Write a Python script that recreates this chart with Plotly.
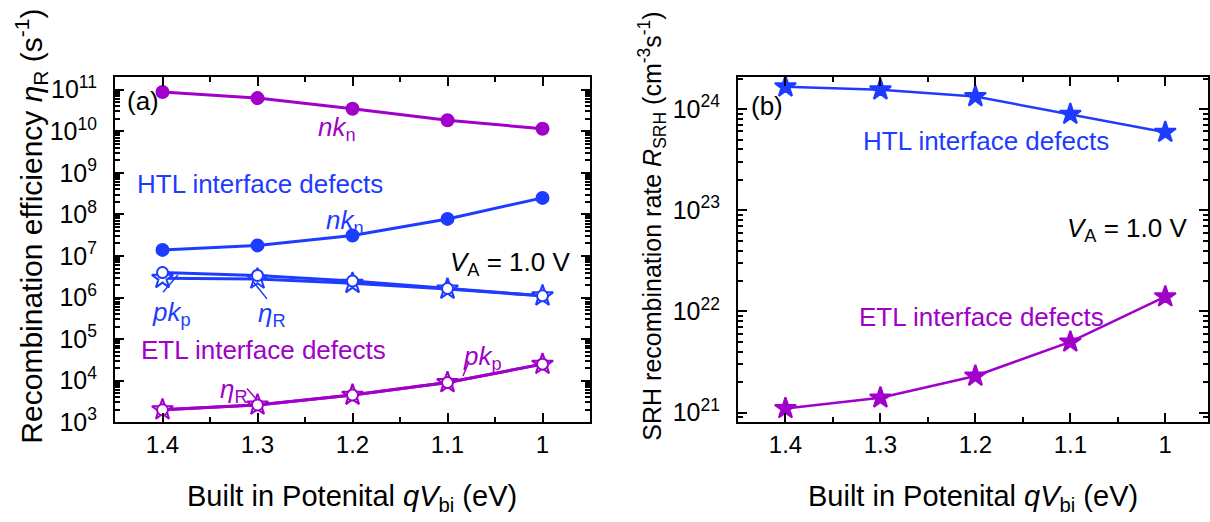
import plotly.graph_objects as go

W, H = 1210, 522

# ---------------- data ----------------
vbi = [1.4, 1.3, 1.2, 1.1, 1.0]
vbi_labels = ["1.4", "1.3", "1.2", "1.1", "1"]

# panel (a): recombination efficiency (s^-1)
etl_nkn = [8.8e10, 6.3e10, 3.5e10, 1.85e10, 1.15e10]
htl_nkn = [1.4e7, 1.8e7, 3.1e7, 7.8e7, 2.5e8]
htl_pkp = [2.9e6, 2.8e6, 2.2e6, 1.6e6, 1.1e6]
htl_etaR = [4.0e6, 3.4e6, 2.5e6, 1.65e6, 1.1e6]
etl_pkp = [2.0e3, 2.6e3, 4.5e3, 9.0e3, 2.5e4]
etl_etaR = [2.0e3, 2.6e3, 4.5e3, 9.0e3, 2.5e4]

# panel (b): SRH recombination rate (cm^-3 s^-1)
htl_rsrh = [1.66e24, 1.55e24, 1.33e24, 8.9e23, 5.9e23]
etl_rsrh = [1.1e21, 1.4e21, 2.3e21, 5.0e21, 1.4e22]

ya_exp = list(range(3, 12))
yb_exp = list(range(21, 25))

BLUE = "#1E3CFF"
PURPLE = "#A000C8"
FONT = "Liberation Sans, Arial, sans-serif"

fig = go.Figure()


def line_trace(y, color, symbol, size, filled, xa, ya, lw=3):
    return go.Scatter(
        x=vbi, y=y, mode="lines+markers", xaxis=xa, yaxis=ya,
        line=dict(color=color, width=lw),
        marker=dict(symbol=symbol, size=size,
                    color=color if filled else "white",
                    line=dict(color=color, width=2)),
        showlegend=False, cliponaxis=False)


# panel (a): y = label axis, y3 = same scale, carries the inside ticks
fig.add_trace(line_trace(etl_nkn, PURPLE, "circle", 12, True, "x", "y"))
fig.add_trace(line_trace(htl_nkn, BLUE, "circle", 12, True, "x", "y"))
fig.add_trace(line_trace(htl_pkp, BLUE, "star", 16, False, "x", "y3"))
fig.add_trace(line_trace(htl_etaR, BLUE, "circle", 11, False, "x", "y3"))
fig.add_trace(line_trace(etl_pkp, PURPLE, "star", 16, False, "x", "y3"))
fig.add_trace(line_trace(etl_etaR, PURPLE, "circle", 11, False, "x", "y3"))
# panel (b): y2 = label axis, y4 = same scale, carries the inside ticks
fig.add_trace(line_trace(htl_rsrh, BLUE, "star", 16, True, "x2", "y2", lw=2.5))
fig.add_trace(line_trace(etl_rsrh, PURPLE, "star", 16, True, "x2", "y4", lw=2.5))


def px(x):
    return x / W


def py(y):
    return 1 - y / H


x_minor = [1.45, 1.35, 1.25, 1.15, 1.05, 0.95]


def xaxis_cfg(x0, x1, anchor, rng):
    return dict(domain=[px(x0), px(x1)], anchor=anchor, range=rng,
                showline=True, linecolor="black", linewidth=2, mirror="ticks",
                ticks="inside", ticklen=9, tickwidth=2, tickcolor="black",
                showgrid=False, zeroline=False,
                tickmode="array", tickvals=vbi, ticktext=vbi_labels,
                tickfont=dict(family=FONT, size=24, color="black"),
                minor=dict(tickmode="array", tickvals=x_minor, ticks="inside",
                           ticklen=5, tickwidth=1.5, tickcolor="black"))


def ylabel_axis(y_top, y_bot, anchor, rng, exps):
    # carries the tick labels; its transparent outside ticks push labels off the axis
    return dict(domain=[py(y_bot), py(y_top)], anchor=anchor, type="log", range=rng,
                showline=True, linecolor="black", linewidth=2, mirror=True,
                ticks="outside", ticklen=11, tickwidth=1, tickcolor="rgba(0,0,0,0)",
                showgrid=False, zeroline=False,
                tickmode="array", tickvals=[10.0 ** e for e in exps],
                ticktext=["10<sup>%d</sup>" % e for e in exps],
                tickfont=dict(family=FONT, size=25, color="black"))


def ytick_axis(base, anchor, rng, exps):
    # draws the inside major + minor ticks on both sides
    minor_vals = [k * 10.0 ** e for e in range(exps[0] - 1, exps[-1] + 1)
                  for k in range(2, 10)]
    return dict(overlaying=base, anchor=anchor, side="left", type="log", range=rng,
                showline=True, linecolor="black", linewidth=2, mirror="ticks",
                ticks="inside", ticklen=9, tickwidth=2, tickcolor="black",
                showticklabels=False, showgrid=False, zeroline=False,
                tickmode="array", tickvals=[10.0 ** e for e in exps],
                minor=dict(tickmode="array", tickvals=minor_vals, ticks="inside",
                           ticklen=5, tickwidth=1.5, tickcolor="black"))


ya_range = [3, 11.3]
yb_range = [20.905, 24.314]

fig.update_layout(
    width=W, height=H,
    margin=dict(l=0, r=0, t=0, b=0),
    paper_bgcolor="white", plot_bgcolor="white",
    font=dict(family=FONT, color="black"),
    xaxis=xaxis_cfg(115, 590, "y", [1.45, 0.95]),
    yaxis=ylabel_axis(75, 433, "x", ya_range, ya_exp),
    yaxis3=ytick_axis("y", "x", ya_range, ya_exp),
    xaxis2=xaxis_cfg(738, 1208, "y2", [1.45, 0.955]),
    yaxis2=ylabel_axis(75, 433, "x2", yb_range, yb_exp),
    yaxis4=ytick_axis("y2", "x2", yb_range, yb_exp),
)


def ann(text, x, y, color="black", size=26, angle=0):
    return dict(text=text, x=px(x), y=py(y), xref="paper", yref="paper",
                showarrow=False, xanchor="center", yanchor="middle",
                textangle=angle,
                font=dict(family=FONT, size=size, color=color))


annotations = [
    # panel (a)
    ann("(a)", 143, 100),
    ann("<i>nk</i><sub>n</sub>", 337, 128, PURPLE),
    ann("HTL interface defects", 260, 186, BLUE),
    ann("<i>nk</i><sub>n</sub>", 345, 225, BLUE),
    ann("<i>V</i><sub>A</sub> = 1.0 V", 510, 268),
    ann("<i>pk</i><sub>p</sub>", 171, 320, BLUE),
    ann("<i>η</i><sub>R</sub>", 272, 321, BLUE),
    ann("ETL interface defects", 263, 358, PURPLE),
    ann("<i>η</i><sub>R</sub>", 234, 400, PURPLE),
    ann("<i>pk</i><sub>p</sub>", 482, 366, PURPLE),
    # panel (b)
    ann("(b)", 767, 105),
    ann("HTL interface defects", 986, 141, BLUE),
    ann("<i>V</i><sub>A</sub> = 1.0 V", 1127, 233),
    ann("ETL interface defects", 981, 324, PURPLE),
    # axis titles
    ann("Built in Potenital <i>qV</i><sub>bi</sub> (eV)", 352, 512, size=29),
    ann("Built in Potenital <i>qV</i><sub>bi</sub> (eV)", 973, 512, size=29),
    ann("Recombination efficiency <i>η</i><sub>R</sub> (s<sup>-1</sup>)", 31, 230, size=30, angle=-90),
    ann("SRH recombination rate <i>R</i><sub>SRH</sub> (cm<sup>-3</sup>s<sup>-1</sup>)", 652, 230, size=25, angle=-90),
]

leaders = [
    ((163, 298), (178, 280), BLUE),
    ((267, 305), (253, 287), BLUE),
    ((247, 398), (257, 410), PURPLE),
    ((469, 370), (463, 385), PURPLE),
]
shapes = [dict(type="line", xref="paper", yref="paper",
               x0=px(a[0]), y0=py(a[1]), x1=px(b[0]), y1=py(b[1]),
               line=dict(color=c, width=1.5)) for a, b, c in leaders]

fig.update_layout(annotations=annotations, shapes=shapes)

fig.write_html("out.html")
